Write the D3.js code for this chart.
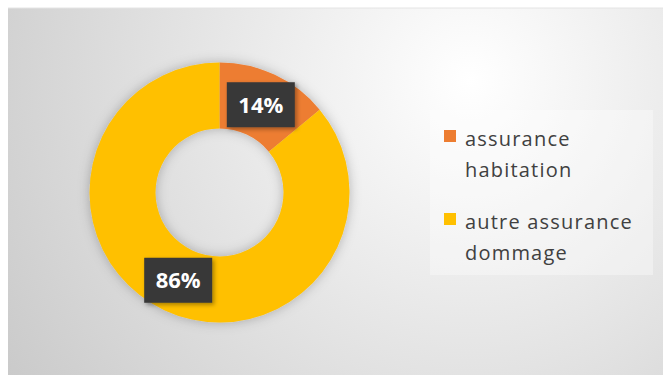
<!DOCTYPE html>
<html><head><meta charset="utf-8">
<script src="https://cdn.jsdelivr.net/npm/d3@7"></script>
<style>html,body{margin:0;padding:0;background:#fff;overflow:hidden}</style>
</head><body><svg id="c" width="663" height="375"></svg>
<script>
const categories = ["assurance habitation", "autre assurance dommage"];
const values = [14, 86];
const labels = ["14%", "86%"];
const legendLines = [["assurance", "habitation"], ["autre assurance", "dommage"]];
const colors = ["#ED7D31", "#FFC000"];

const svg = d3.select("#c");
const defs = svg.append("defs");
const grad = defs.append("radialGradient").attr("id","bg").attr("gradientUnits","userSpaceOnUse")
  .attr("cx",470).attr("cy",80).attr("r",560);
grad.append("stop").attr("offset","0%").attr("stop-color","#ffffff");
grad.append("stop").attr("offset","30%").attr("stop-color","#efefef");
grad.append("stop").attr("offset","100%").attr("stop-color","#c9c9c9");
const sh = defs.append("filter").attr("id","sh").attr("x","-20%").attr("y","-20%").attr("width","140%").attr("height","140%");
sh.append("feDropShadow").attr("dx",0).attr("dy",0).attr("stdDeviation",6).attr("flood-color","#000").attr("flood-opacity",0.25);
const sh2 = defs.append("filter").attr("id","sh2").attr("x","-30%").attr("y","-30%").attr("width","160%").attr("height","160%");
sh2.append("feDropShadow").attr("dx",2).attr("dy",2).attr("stdDeviation",2).attr("flood-color","#000").attr("flood-opacity",0.35);

svg.append("rect").attr("x",8).attr("y",8).attr("width",655).attr("height",367).attr("fill","url(#bg)");
svg.append("line").attr("x1",8).attr("x2",663).attr("y1",8).attr("y2",8).attr("stroke","#e4e4e4");

const cx = 219.5, cy = 192.5, rOuter = 130, rInner = 64;
const pie = d3.pie().sort(null).value(d => d);
const arcs = pie(values);
const arc = d3.arc().innerRadius(rInner).outerRadius(rOuter);
const labelArc = d3.arc().innerRadius((rInner+rOuter)/2).outerRadius((rInner+rOuter)/2);
const g = svg.append("g").attr("transform",`translate(${cx},${cy})`);
g.append("g").attr("filter","url(#sh)").selectAll("path").data(arcs).join("path")
  .attr("d", arc).attr("fill",(d,i)=>colors[i]);

const lg = g.selectAll("g.lab").data(arcs).join("g").attr("class","lab")
  .attr("transform", d => { const [x,y] = labelArc.centroid(d); return `translate(${x},${y})`; });
lg.append("rect").attr("x",-34).attr("y",-22.5).attr("width",68).attr("height",45)
  .attr("fill","#383838").attr("filter","url(#sh2)");
lg.append("text").attr("text-anchor","middle").attr("dy","0.36em")
  .attr("font-family","'Open Sans', sans-serif").attr("font-weight","bold").attr("font-size",22)
  .attr("fill","#fff").text((d,i)=>labels[i]);

// legend
svg.append("rect").attr("x",430).attr("y",110).attr("width",223).attr("height",165)
  .attr("fill","#ffffff").attr("opacity",0.35);
const leg = svg.append("g");
const items = leg.selectAll("g").data(categories).join("g")
  .attr("transform",(d,i)=>`translate(444,${130 + i*83})`);
items.append("rect").attr("width",12).attr("height",12).attr("fill",(d,i)=>colors[i]);
items.append("text").attr("x",21).attr("y",16)
  .attr("font-family","'Open Sans', sans-serif").attr("font-size",20).attr("fill","#404040")
  .attr("letter-spacing",1.2)
  .selectAll("tspan").data((d,i)=>legendLines[i]).join("tspan")
  .attr("x",21).attr("dy",(d,j)=> j===0?0:31).text(d=>d);
</script></body></html>
